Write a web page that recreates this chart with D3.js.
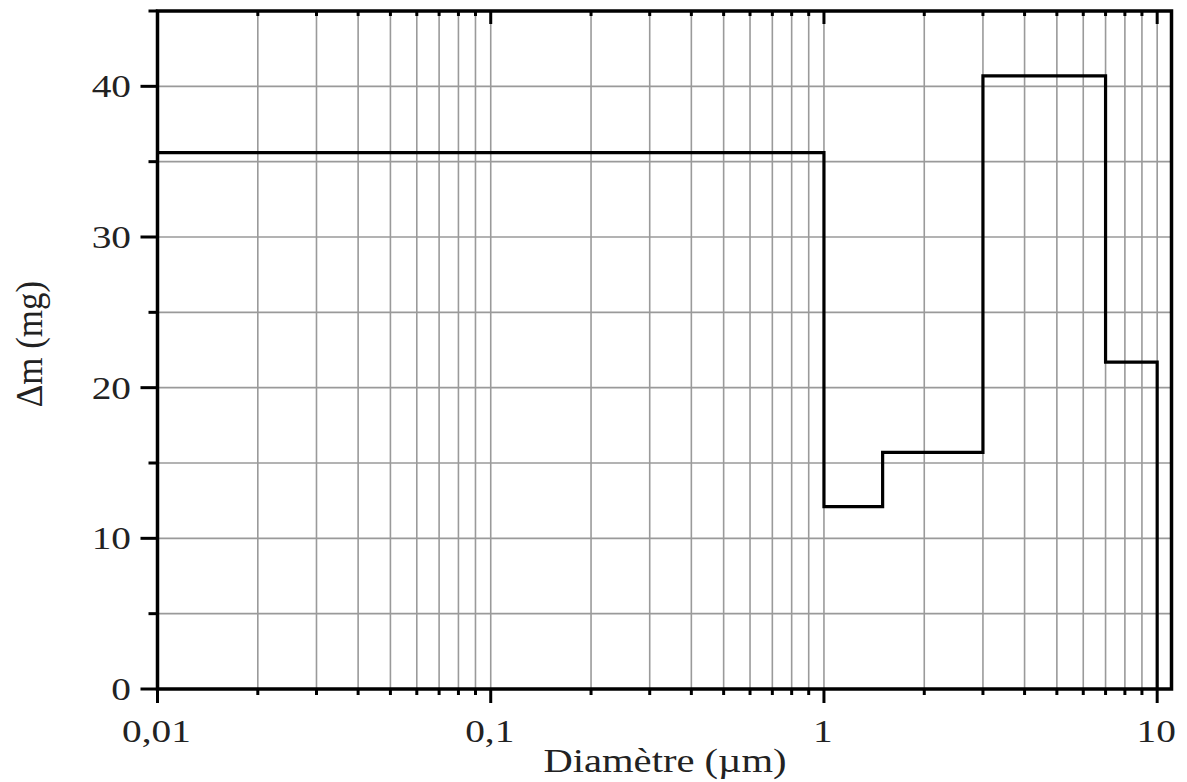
<!DOCTYPE html>
<html>
<head>
<meta charset="utf-8">
<script src="https://cdn.jsdelivr.net/npm/d3@7"></script>
<style>
  html, body { margin: 0; padding: 0; background: #fff; }
  text { font-family: "Liberation Serif", "Times New Roman", serif; fill: #222; }
</style>
</head>
<body>
<script>
// bornes des classes granulométriques (µm) et masse collectée par classe
const edges = [0.01, 1, 1.5, 3, 7, 10];
const dm = [35.6, 12.1, 15.7, 40.7, 21.7];

const xTickValues = [0.01, 0.1, 1, 10];
const xTickLabels = ["0,01", "0,1", "1", "10"];
const yTickValues = [0, 10, 20, 30, 40];
const yMinorValues = [5, 15, 25, 35, 45];
const xLabel = "Diamètre (µm)";
const yLabel = "Δm (mg)";

const W = 1187, H = 782;
const pLeft = 157.5, pRight = 1171.5, pTop = 11, pBottom = 689;
const stretch = 1.23; // le texte de l'original est étiré horizontalement

const svg = d3.select("body").append("svg")
  .attr("width", W)
  .attr("height", H);

const x = d3.scaleLog().domain([0.01, 11.04]).range([pLeft, pRight]);
const y = d3.scaleLinear().domain([0, 45]).range([pBottom, pTop]);

// toutes les graduations log 1..9 × 10^k entre 0,01 et 10
const xAll = x.ticks().filter(function (d) { return d >= 0.01 && d <= 10; });

// grille
const grid = svg.append('g').attr('stroke', '#9a9a9a').attr('stroke-width', 1.6);
grid.selectAll('line.v').data(xAll).enter().append('line')
  .attr('x1', function (d) { return x(d); })
  .attr('x2', function (d) { return x(d); })
  .attr('y1', pTop).attr('y2', pBottom);
grid.selectAll('line.h').data(yTickValues.concat(yMinorValues).filter(function (d) { return d > 0 && d < 45; }))
  .enter().append('line')
  .attr('x1', pLeft).attr('x2', pRight)
  .attr('y1', function (d) { return y(d); })
  .attr('y2', function (d) { return y(d); });

// courbe en escalier
const pts = edges.map(function (e, i) { return [e, i < dm.length ? dm[i] : 0]; });
const line = d3.line()
  .x(function (d) { return x(d[0]); })
  .y(function (d) { return y(d[1]); })
  .curve(d3.curveStepAfter);

svg.append('path')
  .datum(pts)
  .attr('d', line)
  .attr('fill', 'none')
  .attr('stroke', '#000')
  .attr('stroke-width', 3.2);

// cadre
svg.append('rect')
  .attr('x', pLeft).attr('y', pTop)
  .attr('width', pRight - pLeft).attr('height', pBottom - pTop)
  .attr('fill', 'none')
  .attr('stroke', '#000')
  .attr('stroke-width', 3.5);

// graduations
const ticks = svg.append('g').attr('stroke', '#000').attr('stroke-width', 3);
// axe y : vers l'extérieur
ticks.selectAll('line.ym').data(yTickValues).enter().append('line')
  .attr('x1', pLeft - 17).attr('x2', pLeft)
  .attr('y1', function (d) { return y(d); }).attr('y2', function (d) { return y(d); });
ticks.selectAll('line.yn').data(yMinorValues).enter().append('line')
  .attr('x1', pLeft - 9).attr('x2', pLeft)
  .attr('y1', function (d) { return y(d); }).attr('y2', function (d) { return y(d); });
// axe x bas : vers l'extérieur
ticks.selectAll('line.xb').data(xAll).enter().append('line')
  .attr('x1', function (d) { return x(d); }).attr('x2', function (d) { return x(d); })
  .attr('y1', pBottom)
  .attr('y2', function (d) { return pBottom + (xTickValues.indexOf(d) >= 0 ? 14 : 6); });
// axe x haut : vers l'intérieur
ticks.selectAll('line.xt').data(xAll).enter().append('line')
  .attr('x1', function (d) { return x(d); }).attr('x2', function (d) { return x(d); })
  .attr('y1', pTop)
  .attr('y2', function (d) { return pTop + (xTickValues.indexOf(d) >= 0 ? 13 : 5); });

// libellés
svg.append('g').selectAll('text').data(yTickValues).enter().append('text')
  .text(function (d) { return d; })
  .attr('text-anchor', 'end')
  .attr('font-size', 32)
  .attr('transform', function (d) { return 'translate(131,' + (y(d) + 11) + ') scale(' + stretch + ',1)'; });

svg.append('g').selectAll('text').data(xTickValues).enter().append('text')
  .text(function (d, i) { return xTickLabels[i]; })
  .attr('text-anchor', 'middle')
  .attr('font-size', 32)
  .attr('transform', function (d) { return 'translate(' + (x(d) - 1) + ',742) scale(' + stretch + ',1)'; });

svg.append('text')
  .text(xLabel)
  .attr('text-anchor', 'middle')
  .attr('font-size', 33)
  .attr('transform', 'translate(665,772) scale(' + stretch + ',1)');

svg.append('text')
  .text(yLabel)
  .attr('text-anchor', 'middle')
  .attr('font-size', 35)
  .attr('transform', 'translate(42,344) rotate(-90) scale(1,1.1)');
</script>
</body>
</html>
